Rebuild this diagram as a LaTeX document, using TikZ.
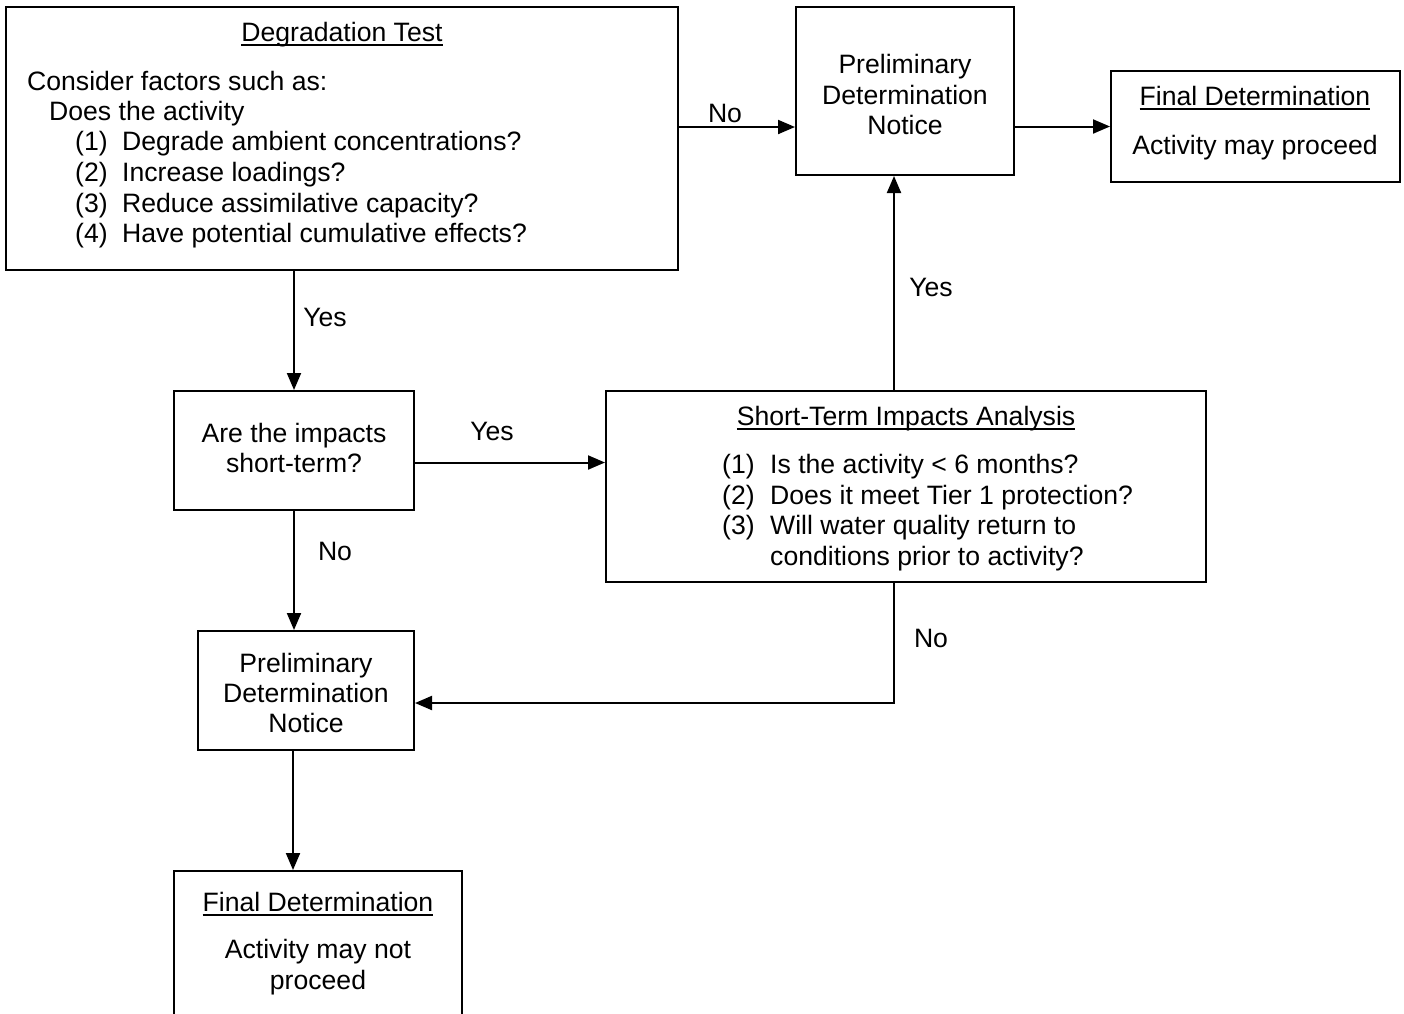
\documentclass[tikz,border=0pt]{standalone}
\usepackage{fontspec}
\setmainfont{Liberation Sans}
\usetikzlibrary{arrows.meta}
\tikzset{
  box/.style={draw, line width=2pt, rectangle, inner sep=0pt},
  txt/.style={anchor=base, inner sep=0pt, font=\fontsize{26.6}{30}\selectfont},
  ltxt/.style={txt, anchor=base west},
  arr/.style={line width=2pt, -{Triangle[length=17pt,width=14pt]}},
}
% heading with a firm rule underneath
\newcommand{\headline}[1]{\setbox0\hbox{#1}\rlap{\vrule height -2.8pt depth 4.8pt width \wd0}\box0}
\newcommand{\boxat}[5]{% name, left, top, right, bottom
  \node[box, minimum width={#4-#2}, minimum height={#5-#3}] (#1) at ({(#2+#4)/2},{(#3+#5)/2}) {};}
\begin{document}
\begin{tikzpicture}[x=1pt, y=-1pt]
\clip (0,0) rectangle (1404,1013);
\fill[white] (0,0) rectangle (1404,1013);

% boxes
\boxat{degr}{6}{7}{678}{270}
\boxat{pdnA}{796}{7}{1014}{175}
\boxat{finA}{1111}{71}{1400}{182}
\boxat{shortq}{174}{391}{414}{510}
\boxat{sta}{606}{391}{1206}{582}
\boxat{pdnB}{198}{631}{414}{750}
\boxat{finB}{174}{871}{462}{1040}

% degradation test text
\node[txt] (t1) at (342,41) {\headline{Degradation Test}};
\node[ltxt] (t2) at (27,90) {Consider factors such as:};
\node[ltxt] (t3) at (49,120) {Does the activity};
\node[ltxt] (t4a) at (75,150) {(1)};
\node[ltxt] (t4b) at (122,150) {Degrade ambient concentrations?};
\node[ltxt] (t5a) at (75,181) {(2)};
\node[ltxt] (t5b) at (122,181) {Increase loadings?};
\node[ltxt] (t6a) at (75,212) {(3)};
\node[ltxt] (t6b) at (122,212) {Reduce assimilative capacity?};
\node[ltxt] (t7a) at (75,242) {(4)};
\node[ltxt] (t7b) at (122,242) {Have potential cumulative effects?};

% preliminary determination notice (top)
\node[txt] (p1) at (905,73) {Preliminary};
\node[txt] (p2) at (905,104) {Determination};
\node[txt] (p3) at (905,134) {Notice};

% final determination (top)
\node[txt] (f1) at (1255,105) {\headline{Final Determination}};
\node[txt] (f2) at (1255,154) {Activity may proceed};

% short-term question
\node[txt] (q1) at (294,442) {Are the impacts};
\node[txt] (q2) at (294,472) {short-term?};

% short-term impacts analysis
\node[txt] (s0) at (906,425) {\headline{Short-Term Impacts Analysis}};
\node[ltxt] (s1a) at (722,473) {(1)};
\node[ltxt] (s1b) at (770,473) {Is the activity < 6 months?};
\node[ltxt] (s2a) at (722,504) {(2)};
\node[ltxt] (s2b) at (770,504) {Does it meet Tier 1 protection?};
\node[ltxt] (s3a) at (722,534) {(3)};
\node[ltxt] (s3b) at (770,534) {Will water quality return to};
\node[ltxt] (s4b) at (770,565) {conditions prior to activity?};

% preliminary determination notice (bottom)
\node[txt] (r1) at (306,672) {Preliminary};
\node[txt] (r2) at (306,702) {Determination};
\node[txt] (r3) at (306,732) {Notice};

% final determination (bottom)
\node[txt] (g1) at (318,911) {\headline{Final Determination}};
\node[txt] (g2) at (318,958) {Activity may not};
\node[txt] (g3) at (318,989) {proceed};

% connectors
\draw[arr] ([yshift=11.5pt]degr.east) coordinate (c1) -- (c1 -| pdnA.west);
\draw[arr] (pdnA.east |- finA.west) -- (finA.west);
\draw[arr] (shortq.north |- degr.south) -- (shortq.north);
\draw[arr] ([yshift=-12pt]shortq.east) coordinate (c2) -- (c2 -| sta.west);
\draw[arr] ([xshift=-12pt]sta.north) coordinate (c3) -- (c3 |- pdnA.south);
\draw[arr] (shortq.south) -- (shortq.south |- pdnB.north);
\draw[arr] ([xshift=-12pt]sta.south) |- ([yshift=-12.5pt]pdnB.east);
\draw[arr] ([xshift=-13pt]pdnB.south) coordinate (c4) -- (c4 |- finB.north);

% branch labels
\node[txt] (l1) at (725,122) {No};
\node[txt] (l2) at (325,326) {Yes};
\node[txt] (l3) at (492,440) {Yes};
\node[txt] (l4) at (931,296) {Yes};
\node[txt] (l5) at (335,560) {No};
\node[txt] (l6) at (931,647) {No};
\end{tikzpicture}
\end{document}
